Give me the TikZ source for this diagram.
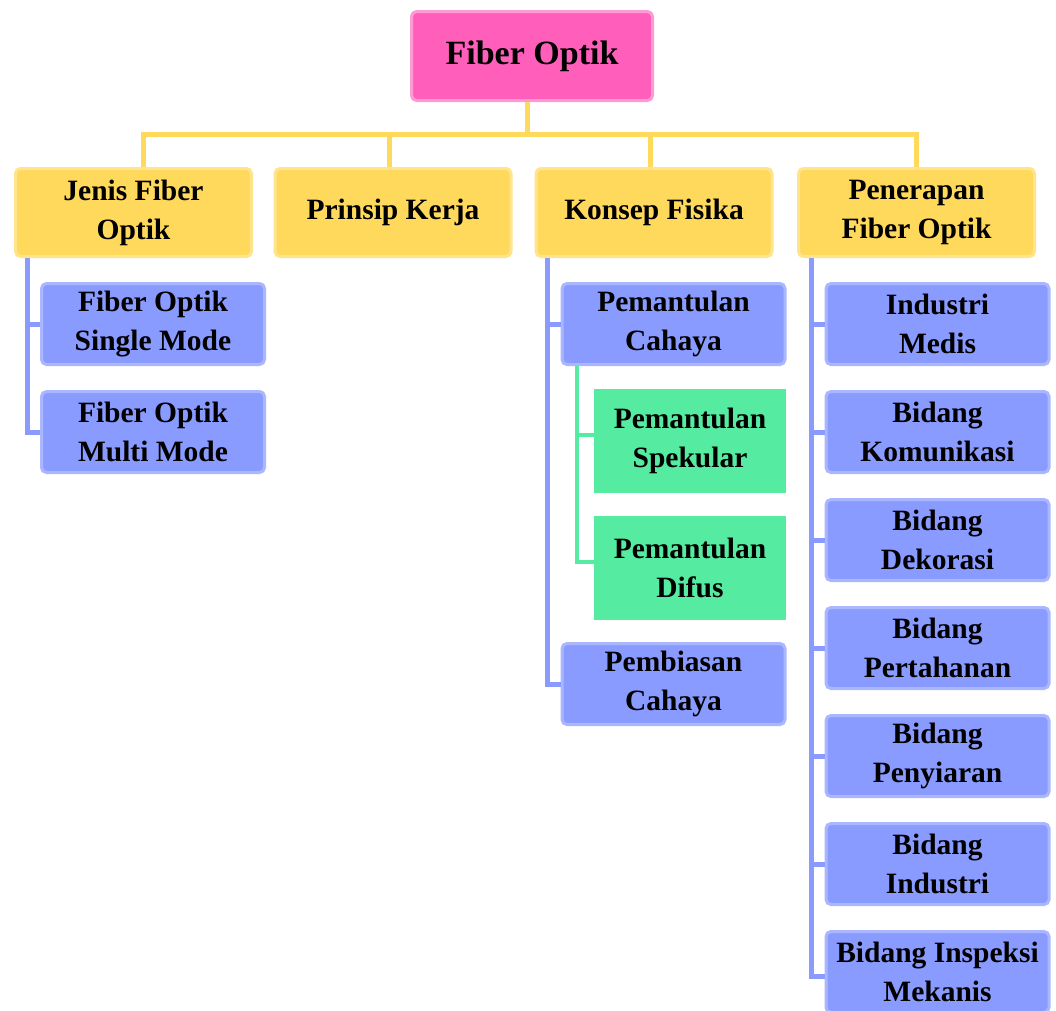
\documentclass[tikz,border=0pt]{standalone}
\usepackage{fontspec}
\setmainfont{Liberation Serif}
\definecolor{pinkF}{HTML}{FF5FBA}
\definecolor{pinkB}{HTML}{FF9BD4}
\definecolor{yelF}{HTML}{FFD95C}
\definecolor{yelB}{HTML}{FFE48C}
\definecolor{bluF}{HTML}{8A9BFF}
\definecolor{bluB}{HTML}{AAB7FF}
\definecolor{grnF}{HTML}{55EBA1}
\begin{document}
\begin{tikzpicture}[x=1pt,y=-1pt,
  box/.style={rectangle, rounded corners=5pt, line width=3pt, align=center,
    inner sep=0pt, font=\bfseries\fontsize{29.5}{39}\selectfont},
  rootbox/.style={box, fill=pinkF, draw=pinkB, minimum width=241pt, minimum height=89pt,
    font=\bfseries\fontsize{34}{39}\selectfont},
  lvlone/.style={box, fill=yelF, draw=yelB, minimum width=236pt, minimum height=88pt},
  subbox/.style={box, fill=bluF, draw=bluB, minimum width=223pt, minimum height=81pt},
  grnbox/.style={rectangle, fill=grnF, align=center, inner sep=0pt,
    minimum width=192pt, minimum height=104pt, font=\bfseries\fontsize{29.5}{39}\selectfont},
  yline/.style={draw=yelF, line width=5pt},
  bline/.style={draw=bluF, line width=5pt},
  gline/.style={draw=grnF, line width=4pt}]
\path[use as bounding box, clip] (0,0) rectangle (1056,1010);
\fill[white] (0,0) rectangle (1056,1010);

\coordinate (bar) at (0,134);

% nodes
\node[rootbox] (root) at (532,56) {Fiber Optik};
\node[lvlone] (jenis) at (133.5,212.5) {Jenis Fiber\\Optik};
\node[lvlone] (prinsip) at (393,212.5) {Prinsip Kerja};
\node[lvlone] (konsep) at (654,212.5) {Konsep Fisika};
\node[lvlone] (pener) at (916.5,212.5) {Penerapan\\Fiber Optik};

\node[subbox] (j1) at (153,324) {Fiber Optik\\Single Mode};
\node[subbox] (j2) at (153,432) {Fiber Optik\\Multi Mode};

\node[subbox] (k1) at (673.5,324) {Pemantulan\\Cahaya};
\node[grnbox] (g1) at (690,441) {Pemantulan\\Spekular};
\node[grnbox] (g2) at (690,568) {Pemantulan\\Difus};
\node[subbox] (k2) at (673.5,684) {Pembiasan\\Cahaya};

\node[subbox] (p1) at (937.5,324) {Industri\\Medis};
\node[subbox] (p2) at (937.5,432) {Bidang\\Komunikasi};
\node[subbox] (p3) at (937.5,540) {Bidang\\Dekorasi};
\node[subbox] (p4) at (937.5,648) {Bidang\\Pertahanan};
\node[subbox] (p5) at (937.5,756) {Bidang\\Penyiaran};
\node[subbox] (p6) at (937.5,864) {Bidang\\Industri};
\node[subbox] (p7) at (937.5,972) {Bidang Inspeksi\\Mekanis};

% trunk coordinates
\coordinate (jt) at ([xshift=13pt]jenis.south west);
\coordinate (kt) at ([xshift=13pt]konsep.south west);
\coordinate (pt) at ([xshift=14pt]pener.south west);
\coordinate (gt) at ([xshift=16pt]k1.south west);

% yellow tree
\path[yline] ([xshift=-5pt]root.south) -- ([xshift=-5pt]root.south |- bar);
\path[yline] ([xshift=9.5pt]jenis.north) |- (pener.north |- bar) -- (pener.north);
\path[yline] ([xshift=-4pt]prinsip.north) -- ([xshift=-4pt]prinsip.north |- bar);
\path[yline] ([xshift=-4pt]konsep.north) -- ([xshift=-4pt]konsep.north |- bar);

% blue branches
\path[bline] (jt) |- (j2.west);
\path[bline] (j1.west) -- (j1.west -| jt);
\path[bline] (kt) |- (k2.west);
\path[bline] (k1.west) -- (k1.west -| kt);
\path[bline] (pt) |- ([yshift=-4pt]p7.west);
\foreach \n in {p1,p2,p3,p4,p5,p6}{
  \path[bline] (\n.west) -- (\n.west -| pt);
}
% green branches
\path[gline] (gt) |- ([yshift=6pt]g2.west);
\path[gline] ([yshift=6pt]g1.west) -- ([yshift=6pt]g1.west -| gt);
\end{tikzpicture}
\end{document}
